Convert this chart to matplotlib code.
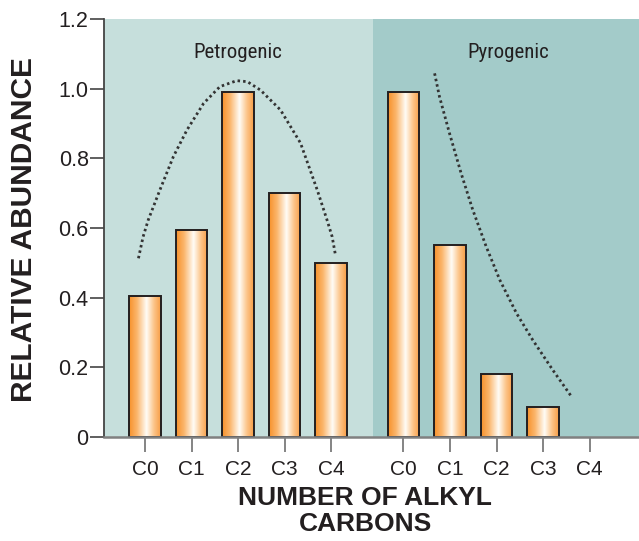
import numpy as np
import matplotlib
matplotlib.use("Agg")
import matplotlib.pyplot as plt
from matplotlib import font_manager
from matplotlib.colors import LinearSegmentedColormap
from matplotlib.patches import Rectangle

# ---- data ----
carbon_labels = ["C0", "C1", "C2", "C3", "C4"]
petrogenic = [0.405, 0.595, 0.99, 0.70, 0.50]
pyrogenic = [0.99, 0.55, 0.18, 0.085, 0.0]
petro_pos = [0, 1, 2, 3, 4]
pyro_pos = [5.55, 6.55, 7.55, 8.55, 9.55]
y_ticks = [0, 0.2, 0.4, 0.6, 0.8, 1.0, 1.2]
y_tick_labels = ["0", "0.2", "0.4", "0.6", "0.8", "1.0", "1.2"]

# hand-drawn trend guides
petro_trend_x = [-0.14, -0.04, 0.07, 0.32, 0.61, 0.90, 1.26, 1.61, 1.97, 2.2, 2.48, 2.91, 3.34, 3.70, 3.91, 4.02, 4.09]
petro_trend_y = [0.513, 0.575, 0.623, 0.709, 0.805, 0.881, 0.958, 1.006, 1.023, 1.02, 0.996, 0.939, 0.844, 0.709, 0.623, 0.575, 0.523]
pyro_trend_x = [6.22, 6.325, 6.54, 6.79, 7.04, 7.33, 7.62, 7.98, 8.33, 8.76, 9.16]
pyro_trend_y = [1.044, 0.977, 0.872, 0.757, 0.652, 0.546, 0.451, 0.355, 0.278, 0.192, 0.116]

region_split = 4.90
x_limits = (-0.88, 10.61)
bar_width = 0.68

# pick a condensed face for the region captions if one is installed
fonts = font_manager.fontManager.ttflist
names = {f.name for f in fonts}
narrow, narrow_stretch, narrow_size = "Liberation Sans", "normal", 13.5
for cand in ["Liberation Sans Narrow", "Roboto Condensed", "Open Sans Condensed", "Noto Sans Condensed"]:
    if cand in names:
        narrow, narrow_stretch, narrow_size = cand, "normal", 15
        break
else:
    for fam in ["Noto Sans", "Open Sans", "DejaVu Sans"]:
        if any(f.name == fam and str(f.stretch) in ("condensed", "extra-condensed", "semi-condensed", "75", "62.5", "87.5")
               for f in fonts):
            narrow, narrow_stretch, narrow_size = fam, "condensed", 13.5
            break

plt.rcParams["font.family"] = ["Liberation Sans", "DejaVu Sans"]

fig = plt.figure(figsize=(6.39, 5.41), dpi=100)
ax = fig.add_axes([104 / 639, 104 / 541, 535 / 639, 418 / 541])
ax.set_xlim(*x_limits)
ax.set_ylim(0, 1.2)

ax.axvspan(x_limits[0], region_split, color="#c6dfdc", zorder=0, lw=0)
ax.axvspan(region_split, x_limits[1], color="#a3cbc9", zorder=0, lw=0)

bar_cmap = LinearSegmentedColormap.from_list(
    "bar_shine",
    [(0.0, "#f7912a"), (0.25, "#fbb66c"), (0.55, "#fffcf6"), (0.78, "#fcc58a"), (1.0, "#f89d45")],
)
grad = np.linspace(0, 1, 256).reshape(1, -1)

def draw_bars(positions, values):
    for xc, h in zip(positions, values):
        if h <= 0:
            continue
        x0, x1 = xc - bar_width / 2, xc + bar_width / 2
        ax.imshow(grad, cmap=bar_cmap, extent=[x0, x1, 0, h], aspect="auto",
                  interpolation="bilinear", zorder=2)
        ax.add_patch(Rectangle((x0, 0), bar_width, h, fill=False,
                               edgecolor="#231f20", lw=1.4, zorder=3))

draw_bars(petro_pos, petrogenic)
draw_bars(pyro_pos, pyrogenic)
ax.set_xlim(*x_limits)
ax.set_ylim(0, 1.2)

dot_style = dict(color="#333333", lw=2.0, linestyle=(0, (0.9, 1.1)), zorder=4)
ax.plot(petro_trend_x, petro_trend_y, **dot_style)
ax.plot(pyro_trend_x, pyro_trend_y, **dot_style)

ax.text(2.0, 1.105, "Petrogenic", family=narrow, fontstretch=narrow_stretch,
        fontsize=narrow_size, ha="center", va="center", color="#231f20")
ax.text(7.81, 1.105, "Pyrogenic", family=narrow, fontstretch=narrow_stretch,
        fontsize=narrow_size, ha="center", va="center", color="#231f20")

for s in ("top", "right"):
    ax.spines[s].set_visible(False)
ax.spines["left"].set_color("#444444")
ax.spines["left"].set_linewidth(1.3)
ax.spines["bottom"].set_color("#808080")
ax.spines["bottom"].set_linewidth(1.8)
ax.spines["bottom"].set_zorder(5)

ax.set_yticks(y_ticks)
ax.set_yticklabels(y_tick_labels)
ax.set_xticks(petro_pos + pyro_pos)
ax.set_xticklabels(carbon_labels + carbon_labels)
ax.tick_params(axis="y", length=10, width=1.2, color="#444444", pad=1,
               labelsize=15.5, labelcolor="#231f20")
ax.tick_params(axis="x", length=10.5, width=1.2, color="#707070", pad=6,
               labelsize=15, labelcolor="#231f20")

fig.text(24 / 639, 1 - 230 / 541, "RELATIVE ABUNDANCE", rotation=90,
         fontsize=21.5, fontweight="bold", ha="center", va="center", color="#231f20")
fig.text(365 / 639, 1 - 486 / 541, "NUMBER OF ALKYL\nCARBONS", fontsize=19,
         fontweight="bold", ha="center", va="top", linespacing=1.08, color="#231f20")

fig.savefig("out.png", dpi=100)
